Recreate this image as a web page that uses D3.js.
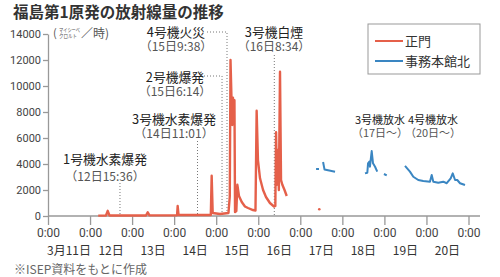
<!DOCTYPE html>
<html>
<head>
<meta charset="utf-8">
<script src="https://cdn.jsdelivr.net/npm/d3@7"></script>
<style>
body { margin: 0; background: #fff; }
svg { font-family: "Noto Sans CJK JP", "Noto Sans", sans-serif; }
</style>
</head>
<body>
<div id="chart"></div>
<script>
var width = 500;
var height = 277;

// 正門 (main gate), uSv/h; null = gap in measurements
var gateTimes = ["12 04:40", "12 09:05", "12 10:05", "12 11:05", "13 07:55", "13 08:55", "13 09:55",
    "14 01:40", "14 02:00", "14 02:30", "14 20:55", "14 21:25", "14 22:00", "15 02:10", "15 07:00",
    "15 07:45", "15 08:10", "15 08:45", "15 09:10", "15 09:35", "15 10:05", "15 10:25", "15 10:45",
    "15 11:30", "15 12:05", "15 13:00", "15 14:35", "15 16:25", "15 18:10", "15 21:00", "15 22:25",
    "15 23:05", "15 23:50", "16 01:00", "16 02:45", "16 04:25", "16 06:40", "16 09:00", "16 09:45",
    "16 10:10", "16 10:40", "16 11:15", "16 11:45", "16 12:25", "16 13:00", "16 13:45", "16 15:00",
    "16 16:15", "16 20:00", "17 10:50", "17 14:00"];
var gateValues = [30, 40, 400, 40, 40, 290, 50,
    60, 770, 80, 80, 3100, 230, 150, 230,
    1500, 12000, 8900, 7000, 9100, 7150, 8900, 300,
    380, 2400, 1540, 1080, 730, 615, 460, 420,
    8100, 4300, 2900, 2000, 1460, 1000, 730, 770,
    6440, 2400, 5080, 2000, 11100, 2770, 2400, 2000,
    1540, null, 515, null];

// 事務本館北 (north of main office building)
var northTimes = ["17 09:00", "17 10:40", "17 11:50", "17 13:00", "17 13:50", "17 19:50", "18 06:00",
    "18 12:55", "18 14:15", "18 14:40", "18 15:25", "18 15:45", "18 16:45", "18 17:30", "18 18:40",
    "18 19:55", "18 21:00", "18 23:45", "19 01:20", "19 06:00",
    "19 11:45", "19 14:35", "19 16:30", "19 19:20", "19 22:10", "20 02:00", "20 03:00", "20 03:55",
    "20 06:45", "20 09:35", "20 11:35", "20 13:50", "20 15:00", "20 16:20", "20 17:35", "20 19:10",
    "20 22:00"];
var northValues = [3620, 3620, null, 4150, 3570, 3400, null,
    3280, 3330, 4050, 4180, 3790, 5000, 4050, 3790,
    3410, null, 3230, 3120, null,
    3850, 3410, 3020, 2770, 2690, 2640, 3150, 2640,
    2560, 2640, 2520, 2900, 3280, 2770, 2770, 2520,
    2380];

var dayTicks = ["11", "12", "13", "14", "15", "16", "17", "18", "19", "20", "21"];
var dayLabels = ["3月11日", "12日", "13日", "14日", "15日", "16日", "17日", "18日", "19日", "20日"];
var yTicks = [0, 2000, 4000, 6000, 8000, 10000, 12000, 14000];
var seriesNames = ["正門", "事務本館北"];

var eventNames = ["1号機水素爆発", "3号機水素爆発", "2号機爆発", "4号機火災", "3号機白煙"];
var eventDates = ["（12日15:36）", "（14日11:01）", "（15日6:14）", "（15日9:38）", "（16日8:34）"];
var eventMarks = ["12 17:05", "14 13:20", "15 03:20", "15 06:10", "16 09:10"];
var waterNames = ["3号機放水", "4号機放水"];
var waterDates = ["（17日〜）", "（20日〜）"];

// label layout: [centre x, first line y, second line y, leader y or line top, leader start x]
var eventLayout = [[105, 160, 177, 183, null], [174, 120, 134, 141, null], [175, 78, 92, 76, 204],
    [176, 33, 47, 32, 207], [274, 33, 47, 55, null]];
var waterLayout = [[380, 120, 133], [433, 120, 133]];

var parseTime = d3.timeParse("%Y-%m-%d %H:%M");
function toDate(s) { return parseTime("2011-03-" + s); }

var gate = gateTimes.map(function(t, i) { return {t: toDate(t), v: gateValues[i]}; });
var north = northTimes.map(function(t, i) { return {t: toDate(t), v: northValues[i]}; });

var x = d3.scaleTime()
    .domain([toDate("11 00:00"), toDate("21 00:00")])
    .range([48, 468.5]);

var y = d3.scaleLinear()
    .domain([0, 14000])
    .range([216, 34]);

var svg = d3.select("#chart")
    .append("svg")
      .attr("width", width)
      .attr("height", height);

svg.append("text")
    .attr("x", 13)
    .attr("y", 18)
    .attr("font-size", "15.5px")
    .attr("font-weight", "bold")
    .attr("fill", "#333")
    .text("福島第1原発の放射線量の推移");

// axes
var yAxis = svg.append("g")
    .attr("transform", "translate(48,0)")
    .call(d3.axisLeft(y).tickValues(yTicks).tickSize(5).tickSizeOuter(0).tickPadding(2)
        .tickFormat(d3.format("d")));
yAxis.selectAll("text").attr("font-size", "11px").attr("fill", "#444").attr("font-family", "Roboto, sans-serif");
yAxis.selectAll("line, path").attr("stroke", "#999").attr("stroke-width", 1.3);

var xAxis = svg.append("g")
    .attr("transform", "translate(0,216)")
    .call(d3.axisBottom(x).tickValues(dayTicks.map(function(d) { return toDate(d + " 00:00"); }))
        .tickSize(9).tickSizeOuter(0).tickPadding(3)
        .tickFormat(function() { return "0:00"; }));
xAxis.select(".domain").remove();
xAxis.append("line")
    .attr("x1", 48).attr("x2", 480);
xAxis.selectAll("line").attr("stroke", "#999").attr("stroke-width", 1.3);
xAxis.selectAll("text").attr("font-size", "12px").attr("fill", "#444").attr("font-family", "Roboto, sans-serif");

svg.append("g")
    .selectAll("text")
    .data(dayLabels)
    .enter().append("text")
    .attr("x", function(d, i) { return x(toDate(dayTicks[i] + " 12:00")); })
    .attr("y", 255)
    .attr("text-anchor", "middle")
    .attr("font-size", "12px")
    .attr("fill", "#333")
    .text(function(d) { return d; });

// unit
var unit = svg.append("g").attr("fill", "#555");
unit.append("text").attr("x", 53).attr("y", 37).attr("font-size", "11px").text("(");
unit.append("text").attr("x", 59).attr("y", 31.5).attr("font-size", "5.5px")
    .attr("textLength", 21).attr("lengthAdjust", "spacingAndGlyphs").text("マイシーベ");
unit.append("text").attr("x", 59).attr("y", 38).attr("font-size", "5.5px")
    .attr("textLength", 18).attr("lengthAdjust", "spacingAndGlyphs").text("クロルト");
unit.append("text").attr("x", 81).attr("y", 38).attr("font-size", "12px").text("／時)");

// event markers
var notes = svg.append("g");
eventNames.forEach(function(name, i) {
    var p = eventLayout[i];
    var mx = x(toDate(eventMarks[i]));
    var path = p[4] !== null
        ? "M" + p[4] + "," + p[3] + "H" + mx + "V216"
        : "M" + mx + "," + p[3] + "V216";
    notes.append("path")
        .attr("d", path)
        .attr("fill", "none")
        .attr("stroke", "#777")
        .attr("stroke-width", 1)
        .attr("stroke-dasharray", "1,2");
    notes.append("text")
        .attr("x", p[0]).attr("y", p[1])
        .attr("dy", "0.35em")
        .attr("text-anchor", "middle")
        .attr("font-size", "12.8px")
        .attr("fill", "#222")
        .text(name);
    notes.append("text")
        .attr("x", p[0]).attr("y", p[2])
        .attr("dy", "0.35em")
        .attr("text-anchor", "middle")
        .attr("font-size", "12px")
        .attr("fill", "#555")
        .text(eventDates[i]);
});

waterNames.forEach(function(name, i) {
    var p = waterLayout[i];
    notes.append("text")
        .attr("x", p[0]).attr("y", p[1])
        .attr("dy", "0.35em")
        .attr("text-anchor", "middle")
        .attr("font-size", "11px")
        .attr("fill", "#222")
        .text(name);
    notes.append("text")
        .attr("x", p[0]).attr("y", p[2])
        .attr("dy", "0.35em")
        .attr("text-anchor", "middle")
        .attr("font-size", "11px")
        .attr("fill", "#555")
        .text(waterDates[i]);
});

// lines
var line = d3.line()
    .defined(function(d) { return d.v !== null; })
    .x(function(d) { return x(d.t); })
    .y(function(d) { return y(d.v); });

var colors = ["#e5604a", "#3a86c2"];

svg.append("path")
    .datum(gate)
    .attr("d", line)
    .attr("fill", "none")
    .attr("stroke", colors[0])
    .attr("stroke-width", 2.4)
    .attr("stroke-linejoin", "round");

svg.append("path")
    .datum(north)
    .attr("d", line)
    .attr("fill", "none")
    .attr("stroke", colors[1])
    .attr("stroke-width", 2)
    .attr("stroke-linejoin", "round");

// isolated readings
function lonely(arr) {
    return arr.filter(function(d, i) {
        return d.v !== null && (i == 0 || arr[i - 1].v === null) && (i == arr.length - 1 || arr[i + 1].v === null);
    });
}
svg.selectAll("circle.gate")
    .data(lonely(gate))
    .enter().append("circle")
    .attr("cx", function(d) { return x(d.t); })
    .attr("cy", function(d) { return y(d.v); })
    .attr("r", 1.3)
    .attr("fill", colors[0]);

// legend
var legend = svg.append("g");
legend.append("rect")
    .attr("x", 368).attr("y", 24)
    .attr("width", 112).attr("height", 50)
    .attr("fill", "#fff")
    .attr("stroke", "#999");
seriesNames.forEach(function(name, i) {
    legend.append("line")
        .attr("x1", 375).attr("x2", 403)
        .attr("y1", 41 + i * 20).attr("y2", 41 + i * 20)
        .attr("stroke", colors[i])
        .attr("stroke-width", 2);
    legend.append("text")
        .attr("x", 405).attr("y", 41 + i * 20)
        .attr("dy", "0.36em")
        .attr("font-size", "13px")
        .attr("fill", "#333")
        .text(name);
});

svg.append("text")
    .attr("x", 14)
    .attr("y", 274)
    .attr("font-size", "12px")
    .attr("fill", "#666")
    .text("※ISEP資料をもとに作成");
</script>
</body>
</html>
